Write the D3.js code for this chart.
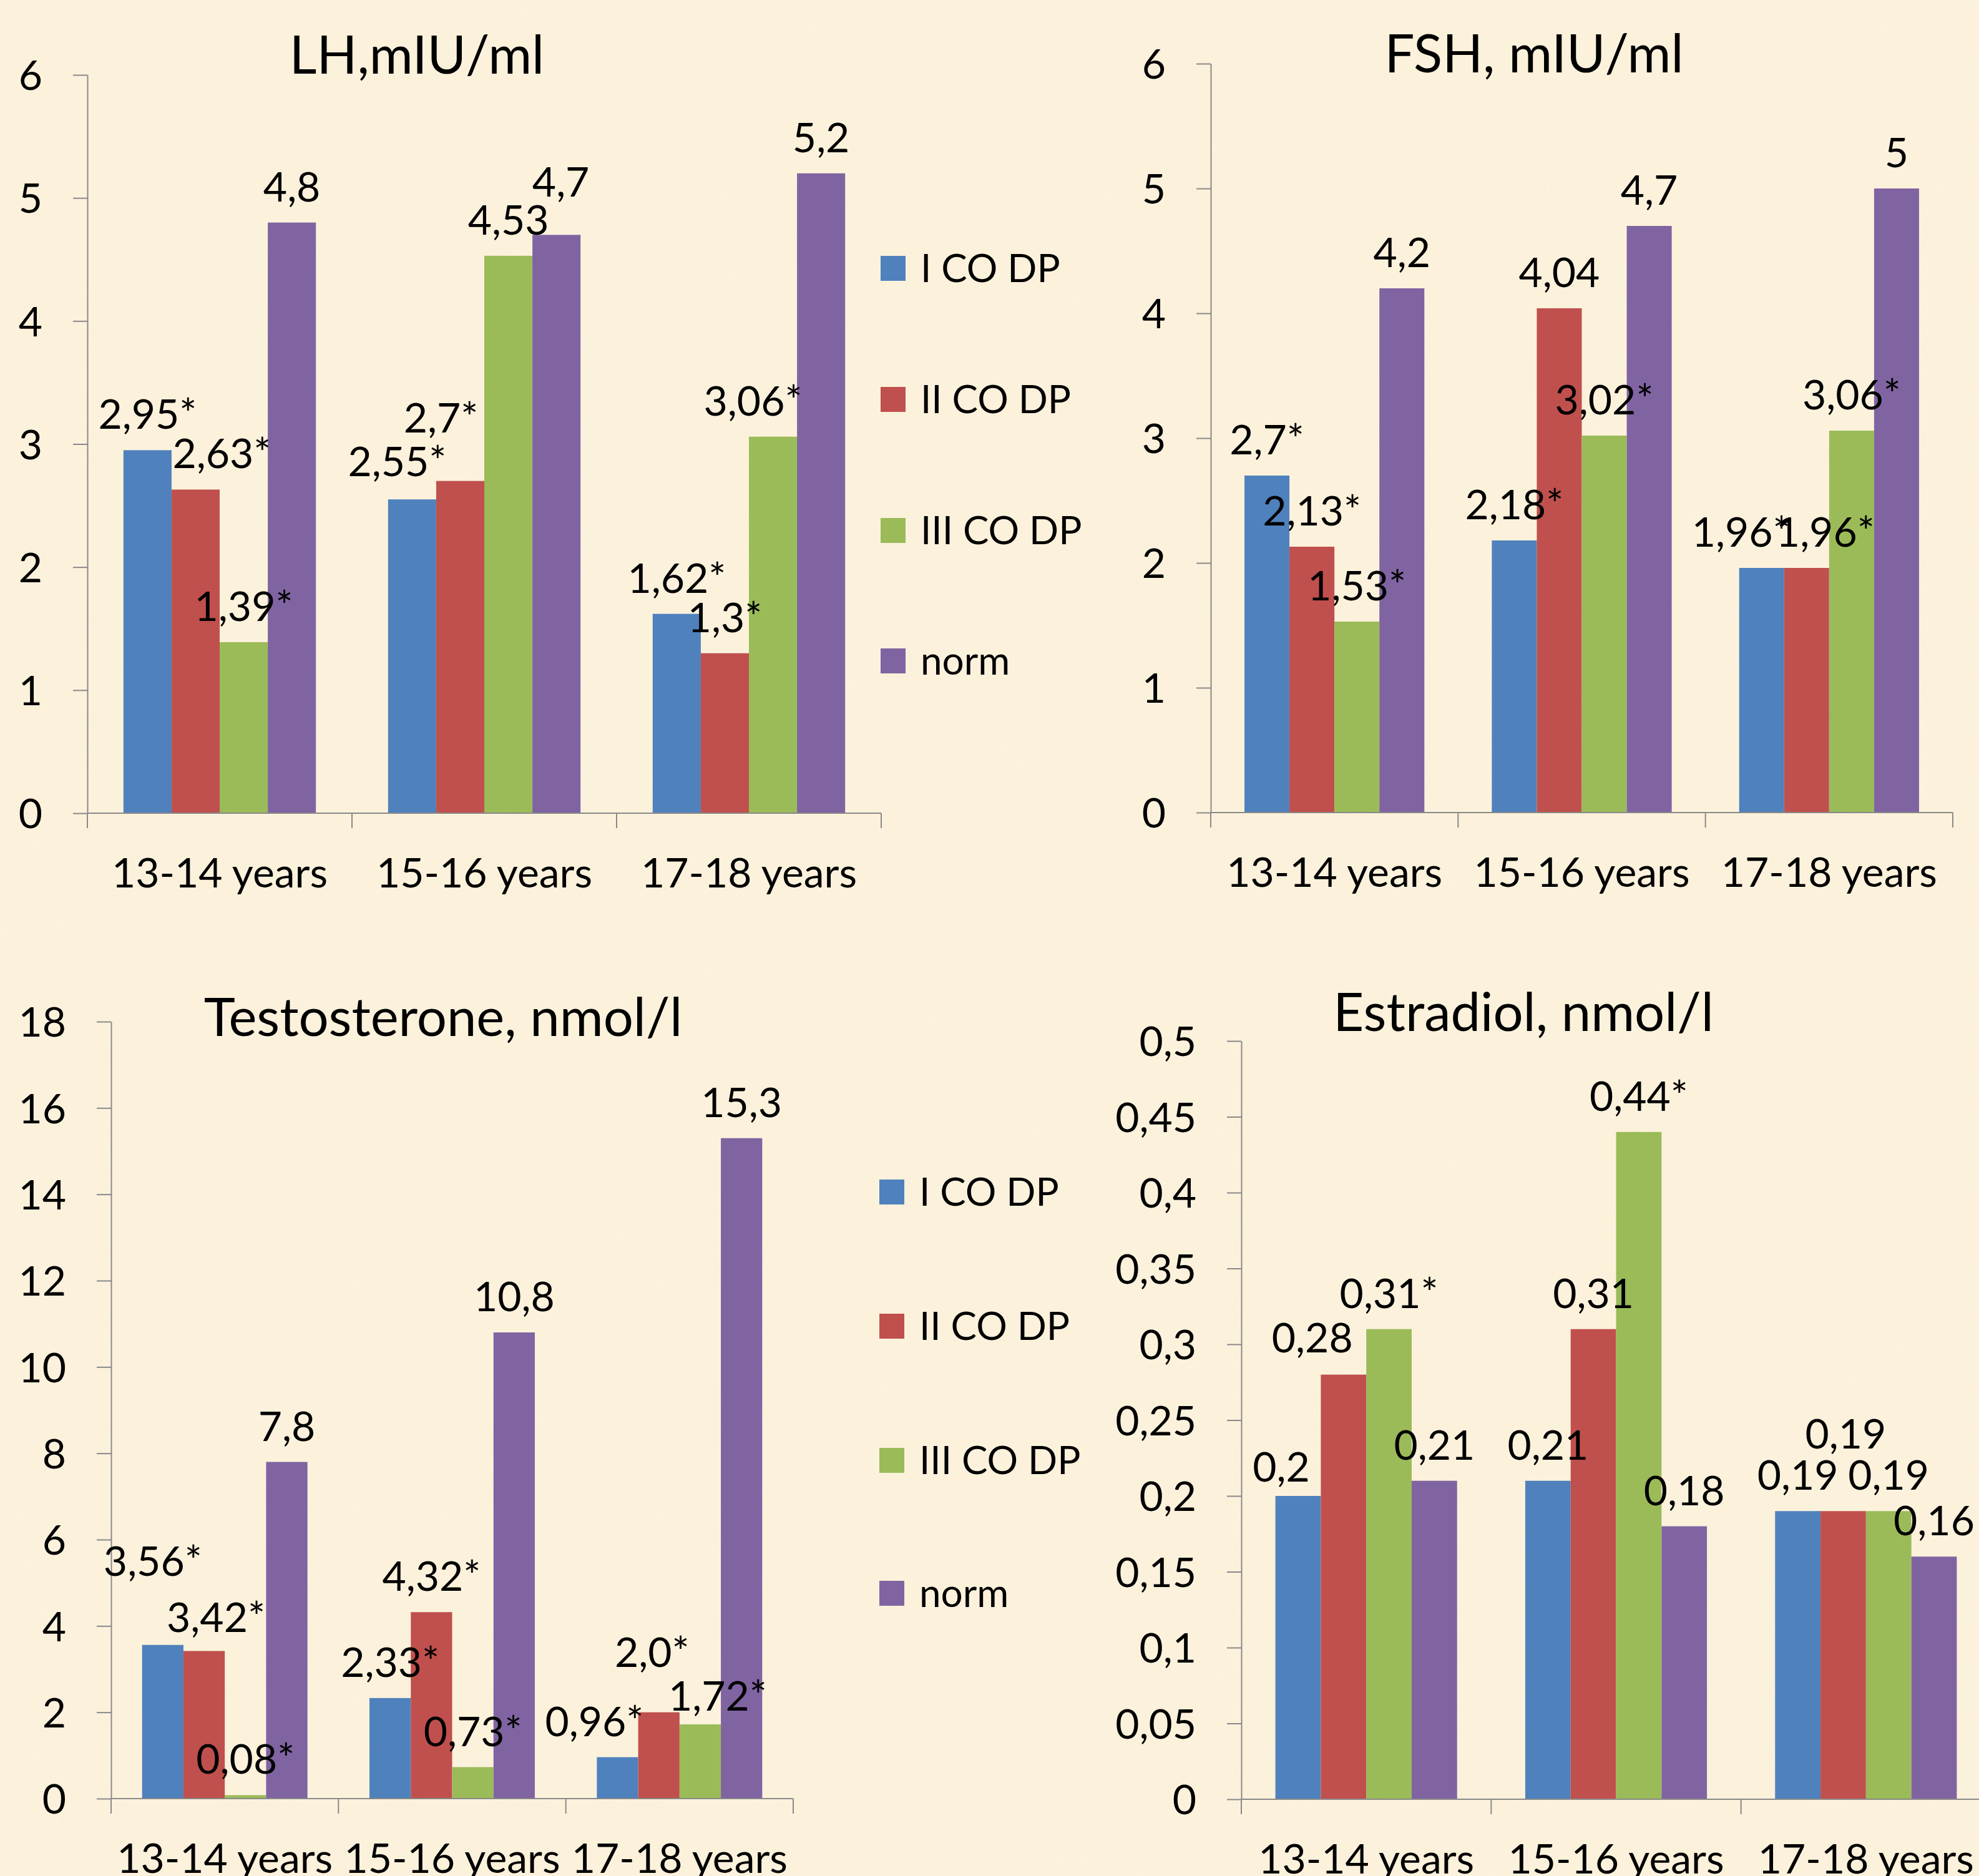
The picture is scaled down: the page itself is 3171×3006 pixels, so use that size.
<!DOCTYPE html>
<html>
<head>
<meta charset="utf-8">
<script src="https://cdn.jsdelivr.net/npm/d3@7"></script>
<style>
  html, body { margin: 0; padding: 0; background: #fbf1da; }
  svg text { font-family: Lato, "Open Sans", sans-serif; fill: #000; }
</style>
</head>
<body>
<div id="chart"></div>
<script>
const ageGroups = ["13-14 years", "15-16 years", "17-18 years"];
const groupNames = ["I CO DP", "II CO DP", "III CO DP", "norm"];
const groupColors = ["#4f81bd", "#c0504d", "#9bbb59", "#8064a2"];

// values per group (rows) and age (columns)
const lhValues = [[2.95, 2.55, 1.62], [2.63, 2.7, 1.3], [1.39, 4.53, 3.06], [4.8, 4.7, 5.2]];
const lhLabels = [["2,95*", "2,55*", "1,62*"], ["2,63*", "2,7*", "1,3*"], ["1,39*", "4,53", "3,06*"], ["4,8", "4,7", "5,2"]];
const lhTicks = [0, 1, 2, 3, 4, 5, 6];

const fshValues = [[2.7, 2.18, 1.96], [2.13, 4.04, 1.96], [1.53, 3.02, 3.06], [4.2, 4.7, 5]];
const fshLabels = [["2,7*", "2,18*", "1,96*"], ["2,13*", "4,04", "1,96*"], ["1,53*", "3,02*", "3,06*"], ["4,2", "4,7", "5"]];
const fshTicks = [0, 1, 2, 3, 4, 5, 6];

const testoValues = [[3.56, 2.33, 0.96], [3.42, 4.32, 2.0], [0.08, 0.73, 1.72], [7.8, 10.8, 15.3]];
const testoLabels = [["3,56*", "2,33*", "0,96*"], ["3,42*", "4,32*", "2,0*"], ["0,08*", "0,73*", "1,72*"], ["7,8", "10,8", "15,3"]];
const testoTicks = [0, 2, 4, 6, 8, 10, 12, 14, 16, 18];

const estrValues = [[0.2, 0.21, 0.19], [0.28, 0.31, 0.19], [0.31, 0.44, 0.19], [0.21, 0.18, 0.16]];
const estrLabels = [["0,2", "0,21", "0,19"], ["0,28", "0,31", "0,19"], ["0,31*", "0,44*", "0,19"], ["0,21", "0,18", "0,16"]];
const estrTicks = [0, 0.05, 0.1, 0.15, 0.2, 0.25, 0.3, 0.35, 0.4, 0.45, 0.5];

const W = 3171, H = 3006;
const fontSize = 66;
const locale = d3.formatLocale({ decimal: ",", thousands: " ", grouping: [3], currency: ["", ""] });
const tickFmt = locale.format("~g");

const panels = [
  { title: "LH,mIU/ml", values: lhValues, labels: lhLabels, ticks: lhTicks,
    left: 140, right: 1412, top: 120, zero: 1303, titleX: 668, titleY: 118,
    legend: { x: 1411, ys: [430, 640, 850, 1059] },
    nudges: [[1, 0, 42, 0], [0, 1, -24, -3], [1, 1, -31, -44], [3, 1, 7, -27], [2, 2, -32, 0]] },
  { title: "FSH, mIU/ml", values: fshValues, labels: fshLabels, ticks: fshTicks,
    left: 1940, right: 3129, top: 102, zero: 1302, titleX: 2458, titleY: 116,
    nudges: [[0, 2, -33, 0], [1, 2, 30, 0]] },
  { title: "Testosterone, nmol/l", values: testoValues, labels: testoLabels, ticks: testoTicks,
    left: 178, right: 1271, top: 1637, zero: 2882, titleX: 710, titleY: 1660,
    legend: { x: 1409, ys: [1910, 2125, 2340, 2553] },
    nudges: [[0, 0, -16, -77], [1, 0, 19, 4], [0, 2, -37, 0], [1, 2, -11, -39], [2, 2, 28, 12]] },
  { title: "Estradiol, nmol/l", values: estrValues, labels: estrLabels, ticks: estrTicks,
    left: 1989, right: 3190, top: 1668, zero: 2883, titleX: 2441, titleY: 1652,
    nudges: [[0, 0, -27, 11], [1, 0, -50, -2], [1, 2, 4, -66]] },
];

const svg = d3.select("#chart").append("svg")
  .attr("width", W)
  .attr("height", H);

// parchment background
const defs = svg.append("defs");
const paper = defs.append("filter").attr("id", "paper")
  .attr("x", 0).attr("y", 0).attr("width", "100%").attr("height", "100%");
paper.append("feTurbulence")
  .attr("type", "fractalNoise")
  .attr("baseFrequency", 0.012)
  .attr("numOctaves", 3)
  .attr("seed", 7);
paper.append("feColorMatrix")
  .attr("type", "matrix")
  .attr("values", "0 0 0 0 0.93  0 0 0 0 0.86  0 0 0 0 0.70  0 0 0 0.9 -0.38");

svg.append("rect").attr("width", W).attr("height", H).attr("fill", "#fcf2dc");
svg.append("rect").attr("width", W).attr("height", H).attr("filter", "url(#paper)").attr("opacity", 0.55);

const axisColor = "#898989";

panels.forEach((p) => {
  const g = svg.append("g");

  const x0 = d3.scaleBand()
    .domain(ageGroups)
    .range([p.left, p.right])
    .paddingInner(1.5 / 5.5)
    .paddingOuter(0.75 / 5.5);
  const x1 = d3.scaleBand()
    .domain(groupNames)
    .range([0, x0.bandwidth()]);
  const y = d3.scaleLinear()
    .domain([0, d3.max(p.ticks)])
    .range([p.zero, p.top]);

  // title
  g.append("text")
    .attr("x", p.titleX)
    .attr("y", p.titleY)
    .attr("text-anchor", "middle")
    .attr("font-size", 85)
    .text(p.title);

  // y axis
  const yAxis = g.append("g")
    .attr("transform", `translate(${p.left},0)`)
    .call(d3.axisLeft(y).tickValues(p.ticks).tickFormat(tickFmt)
      .tickSize(23).tickSizeOuter(0).tickPadding(49));
  yAxis.selectAll("path, line").attr("stroke", axisColor).attr("stroke-width", 2);
  yAxis.selectAll("text")
    .attr("font-size", fontSize)
    .attr("font-family", "Lato, sans-serif")
    .attr("fill", "#000")
    .attr("dy", "0.36em");

  // bars
  groupNames.forEach((name, si) => {
    g.append("g")
      .selectAll("rect")
      .data(p.values[si])
      .join("rect")
      .attr("x", (d, ci) => x0(ageGroups[ci]) + x1(name))
      .attr("y", (d) => y(d))
      .attr("width", x1.bandwidth())
      .attr("height", (d) => y(0) - y(d))
      .attr("fill", groupColors[si]);
  });

  // x axis: baseline, category boundary ticks, labels
  const step = x0.step();
  const bounds = d3.range(ageGroups.length + 1).map((i) => p.left + i * step);
  g.append("line")
    .attr("x1", p.left).attr("x2", p.right)
    .attr("y1", y(0)).attr("y2", y(0))
    .attr("stroke", axisColor).attr("stroke-width", 2);
  g.append("g")
    .selectAll("line")
    .data(bounds)
    .join("line")
    .attr("x1", (d) => d).attr("x2", (d) => d)
    .attr("y1", y(0)).attr("y2", y(0) + 24)
    .attr("stroke", axisColor).attr("stroke-width", 2);
  g.append("g")
    .selectAll("text")
    .data(ageGroups)
    .join("text")
    .attr("x", (d) => x0(d) + x0.bandwidth() / 2)
    .attr("y", y(0) + 119)
    .attr("text-anchor", "middle")
    .attr("font-size", fontSize)
    .text((d) => d);

  // data labels
  const nudge = (si, ci) => p.nudges.find((n) => n[0] === si && n[1] === ci) || [si, ci, 0, 0];
  groupNames.forEach((name, si) => {
    g.append("g")
      .selectAll("text")
      .data(p.values[si])
      .join("text")
      .attr("x", (d, ci) => x0(ageGroups[ci]) + x1(name) + x1.bandwidth() / 2 + nudge(si, ci)[2])
      .attr("y", (d, ci) => y(d) - 34 + nudge(si, ci)[3])
      .attr("text-anchor", "middle")
      .attr("font-size", fontSize)
      .text((d, ci) => p.labels[si][ci]);
  });

  // legend
  if (p.legend) {
    const lg = g.append("g");
    groupNames.forEach((name, si) => {
      const cy = p.legend.ys[si];
      lg.append("rect")
        .attr("x", p.legend.x)
        .attr("y", cy - 20)
        .attr("width", 40)
        .attr("height", 40)
        .attr("fill", groupColors[si]);
      lg.append("text")
        .attr("x", p.legend.x + 64)
        .attr("y", cy)
        .attr("dy", "0.36em")
        .attr("font-size", 62)
        .text(name);
    });
  }
});
</script>
</body>
</html>
